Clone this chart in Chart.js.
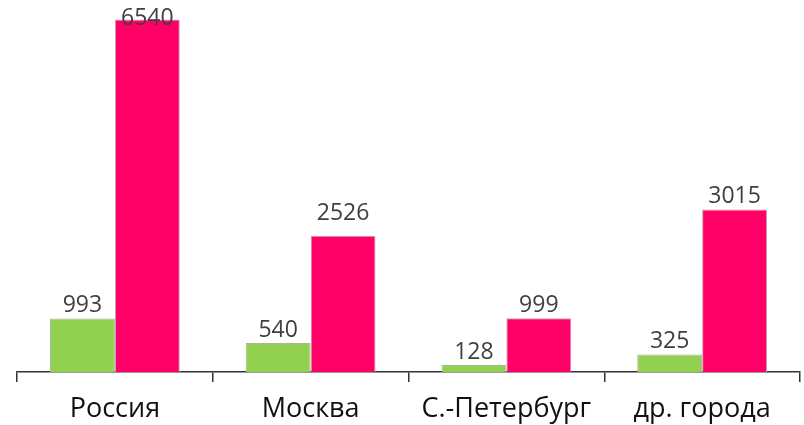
<!DOCTYPE html>
<html>
<head>
<meta charset="utf-8">
<script src="https://cdn.jsdelivr.net/npm/chart.js@4"></script>
<style>
  html, body { margin: 0; padding: 0; background: #fff; }
  #wrap { width: 804px; height: 425px; position: relative; }
</style>
</head>
<body>
<div id="wrap"><canvas id="c"></canvas></div>
<script>
const categories = ["Россия", "Москва", "С.-Петербург", "др. города"];
const greenValues = [993, 540, 128, 325];
const pinkValues = [6540, 2526, 999, 3015];

// draws the value above each bar, kept inside the canvas
const valueLabels = {
  id: "valueLabels",
  afterDatasetsDraw(chart, args, opts) {
    const ctx = chart.ctx;
    ctx.save();
    ctx.font = "23px 'Open Sans'";
    ctx.fillStyle = "#404040";
    ctx.textAlign = "center";
    ctx.textBaseline = "alphabetic";
    chart.data.datasets.forEach((ds, i) => {
      chart.getDatasetMeta(i).data.forEach((bar, j) => {
        const lift = (opts.lift[i] && opts.lift[i][j]) || 0;
        const y = Math.max(bar.y - 6 - lift, 25);
        ctx.fillText(String(ds.data[j]), bar.x, y);
      });
    });
    ctx.restore();
  },
};

new Chart(document.getElementById("c"), {
  type: "bar",
  data: {
    labels: categories,
    datasets: [
      {
        data: greenValues,
        backgroundColor: "#92D050",
        borderColor: "#A6B89A",
        borderWidth: 1,
      },
      {
        data: pinkValues,
        backgroundColor: "#FF0066",
        borderColor: "#C8A0B0",
        borderWidth: 1,
      },
    ],
  },
  options: {
    responsive: true,
    maintainAspectRatio: false,
    animation: false,
    layout: { padding: { left: 17, right: 4, top: 0, bottom: 0 } },
    datasets: { bar: { categoryPercentage: 0.663, barPercentage: 1.0 } },
    plugins: {
      legend: { display: false },
      tooltip: { enabled: false },
      valueLabels: { lift: [[], [0, 10, 0, 0]] },
    },
    scales: {
      x: {
        offset: true,
        border: { display: true, color: "#333", width: 1.5 },
        grid: {
          offset: true,
          drawOnChartArea: false,
          drawTicks: true,
          tickLength: 10,
          color: "#333",
          lineWidth: 1.5,
        },
        ticks: {
          padding: 11,
          color: "#111",
          font: { family: "'Open Sans'", size: 27 },
        },
        afterFit(scale) {
          scale.height = 53;
        },
      },
      y: {
        display: false,
        min: 0,
        max: 6900,
      },
    },
  },
  plugins: [valueLabels],
});
</script>
</body>
</html>
